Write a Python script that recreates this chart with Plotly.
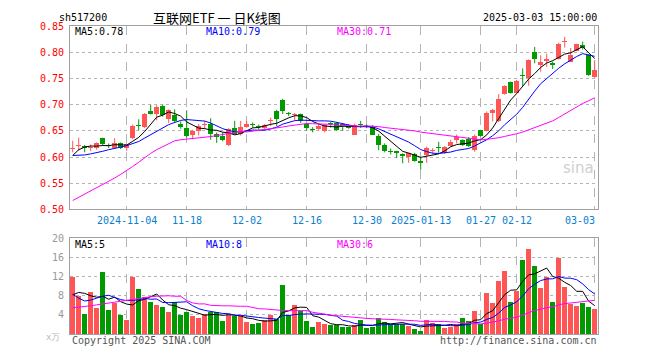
import plotly.graph_objects as go

# ---------------- data ----------------
opens = [0.616, 0.621, 0.622, 0.617, 0.618, 0.636, 0.622, 0.618, 0.627, 0.617,
         0.637, 0.660, 0.657, 0.688, 0.682, 0.697, 0.672, 0.680, 0.663, 0.655,
         0.643, 0.650, 0.661, 0.663, 0.644, 0.640, 0.623, 0.655, 0.644, 0.658,
         0.662, 0.658, 0.655, 0.668, 0.688, 0.709, 0.683, 0.681, 0.682, 0.663,
         0.652, 0.653, 0.649, 0.664, 0.665, 0.663, 0.660, 0.643, 0.662, 0.659,
         0.657, 0.641, 0.623, 0.611, 0.611, 0.605, 0.600, 0.606, 0.592, 0.604,
         0.612, 0.620, 0.607, 0.621, 0.632, 0.632, 0.635, 0.614, 0.651, 0.650,
         0.684, 0.668, 0.720, 0.743, 0.723, 0.755, 0.751, 0.800, 0.776, 0.783,
         0.780, 0.788, 0.819, 0.782, 0.803, 0.814, 0.794, 0.753]
highs = [0.631, 0.637, 0.623, 0.624, 0.628, 0.637, 0.626, 0.636, 0.628, 0.626,
         0.662, 0.672, 0.684, 0.700, 0.699, 0.700, 0.691, 0.691, 0.668, 0.689,
         0.652, 0.663, 0.669, 0.674, 0.647, 0.647, 0.655, 0.669, 0.669, 0.669,
         0.666, 0.662, 0.663, 0.675, 0.690, 0.711, 0.686, 0.684, 0.683, 0.665,
         0.657, 0.663, 0.663, 0.667, 0.667, 0.665, 0.662, 0.664, 0.669, 0.662,
         0.661, 0.644, 0.626, 0.616, 0.612, 0.607, 0.608, 0.608, 0.600, 0.620,
         0.617, 0.629, 0.621, 0.633, 0.643, 0.634, 0.638, 0.643, 0.652, 0.687,
         0.692, 0.720, 0.737, 0.744, 0.747, 0.769, 0.786, 0.810, 0.794, 0.797,
         0.782, 0.818, 0.829, 0.808, 0.816, 0.820, 0.796, 0.785]
lows = [0.609, 0.612, 0.609, 0.611, 0.614, 0.622, 0.617, 0.616, 0.615, 0.612,
        0.634, 0.651, 0.655, 0.681, 0.670, 0.677, 0.665, 0.665, 0.654, 0.637,
        0.634, 0.641, 0.654, 0.633, 0.627, 0.630, 0.621, 0.643, 0.641, 0.656,
        0.656, 0.653, 0.653, 0.659, 0.659, 0.682, 0.678, 0.670, 0.665, 0.650,
        0.647, 0.651, 0.647, 0.656, 0.650, 0.650, 0.654, 0.642, 0.656, 0.655,
        0.642, 0.613, 0.609, 0.605, 0.598, 0.588, 0.589, 0.591, 0.576, 0.589,
        0.606, 0.608, 0.606, 0.620, 0.626, 0.621, 0.619, 0.610, 0.639, 0.649,
        0.668, 0.667, 0.719, 0.721, 0.722, 0.736, 0.736, 0.779, 0.763, 0.772,
        0.768, 0.786, 0.809, 0.781, 0.802, 0.805, 0.755, 0.751]
closes = [0.618, 0.623, 0.617, 0.619, 0.627, 0.624, 0.621, 0.627, 0.617, 0.625,
          0.660, 0.659, 0.683, 0.682, 0.696, 0.680, 0.689, 0.668, 0.657, 0.641,
          0.650, 0.660, 0.663, 0.644, 0.638, 0.632, 0.653, 0.644, 0.657, 0.663,
          0.661, 0.657, 0.662, 0.669, 0.673, 0.688, 0.682, 0.682, 0.668, 0.656,
          0.651, 0.659, 0.662, 0.663, 0.651, 0.659, 0.656, 0.662, 0.661, 0.658,
          0.643, 0.623, 0.612, 0.610, 0.607, 0.602, 0.607, 0.592, 0.589, 0.618,
          0.613, 0.618, 0.620, 0.629, 0.639, 0.623, 0.622, 0.641, 0.641, 0.684,
          0.690, 0.711, 0.736, 0.723, 0.746, 0.754, 0.785, 0.788, 0.782, 0.788,
          0.776, 0.816, 0.820, 0.794, 0.815, 0.808, 0.757, 0.766]
volumes = [12.0, 8.0, 4.2, 8.8, 5.5, 12.9, 5.0, 6.4, 4.0, 3.0,
           12.0, 9.5, 7.7, 6.7, 6.0, 5.7, 4.5, 6.8, 4.0, 4.5,
           3.7, 3.3, 4.2, 4.6, 4.6, 2.8, 4.0, 3.7, 3.8, 2.5,
           2.0, 2.3, 2.9, 4.0, 3.1, 10.2, 4.0, 6.0, 4.8, 2.8,
           1.5, 2.6, 2.1, 1.8, 1.8, 1.4, 1.4, 1.8, 2.9, 1.3,
           1.4, 3.4, 2.5, 2.0, 2.1, 2.0, 1.7, 1.0, 0.6, 3.0,
           2.2, 2.0, 1.3, 1.5, 2.0, 3.4, 2.7, 4.8, 2.0, 8.5,
           6.4, 11.1, 13.2, 6.6, 8.9, 15.4, 17.8, 14.2, 9.7, 11.9,
           6.6, 16.0, 9.9, 6.3, 5.9, 6.5, 5.7, 5.3]

# moving-average values at the left edge (their windows start before the chart)
ma5_head = [0.603, 0.614, 0.619, 0.621]
ma10_head = [0.603, 0.603, 0.604, 0.606, 0.608, 0.611, 0.614, 0.616, 0.619]
ma30_head = [0.517, 0.523, 0.529, 0.535, 0.541, 0.547, 0.554, 0.560, 0.567, 0.574,
             0.582, 0.590, 0.599, 0.607, 0.614, 0.620, 0.626, 0.631, 0.633, 0.634,
             0.635, 0.636, 0.638, 0.639, 0.641, 0.643, 0.645, 0.647, 0.649]
vma5_head = [8.2, 8.7, 8.5, 8.0]
vma10_head = [8.3, 7.5, 6.9, 7.1, 7.5, 7.9, 8.1, 7.7, 7.2]
vma30_head = [5.5, 5.6, 5.8, 5.9, 6.1, 6.3, 6.4, 6.6, 6.8, 7.0,
              7.2, 7.4, 7.6, 7.8, 7.9, 8.0, 8.0, 7.9, 7.9, 7.0,
              6.5, 6.3, 6.3, 6.0, 5.9, 5.9, 5.9, 5.8, 5.8]

tick_idx = [9, 19, 29, 39, 49, 58, 68, 74, 87]
tick_labels = ['2024-11-04', '11-18', '12-02', '12-16', '12-30',
               '2025-01-13', '01-27', '02-12', '03-03']
price_ticks = [0.50, 0.55, 0.60, 0.65, 0.70, 0.75, 0.80, 0.85]
vol_ticks = [4, 8, 12, 16, 20]

header_code = 'sh517200'
header_title = '互联网ETF 一 日K线图'
header_time = '2025-03-03 15:00:00'
price_ma_labels = ['MA5:0.78', 'MA10:0.79', 'MA30:0.71']
vol_ma_labels = ['MA5:5', 'MA10:8', 'MA30:6']

# ---------------- helpers ----------------
RED = '#ff5555'
GREEN = '#009900'
MA_COLORS = ['#000000', '#0000ff', '#ff00ff']
MONO = 'DejaVu Sans Mono'

def moving_avg(vals, n, head):
    out = list(head)
    for i in range(len(head), len(vals)):
        out.append(sum(vals[i - n + 1:i + 1]) / n)
    return out

N = len(closes)
xs = list(range(N))

# the page body has an 8px margin; target plot area in page pixels: x 70-598, y 21-340
OFF = 8
PX0, PX1, PY0, PY1 = 70, 598, 21, 340
W, H = 644, 344
L, T = PX0 - OFF, PY0 - OFF
R = W - L - (PX1 - PX0)
B = H - T - (PY1 - PY0)
PW, PH = PX1 - PX0, PY1 - PY0

def px(x):
    return (x - PX0) / PW

def py(y):
    return (PY1 - y) / PH

price_dom = [py(211), 1.0]
vol_dom = [0.0, py(241)]

fig = go.Figure()

# candles
for up, col in [(True, RED), (False, GREEN)]:
    idx = [i for i in xs if (closes[i] >= opens[i]) == up]
    wx, wy = [], []
    for i in idx:
        wx += [i, i, None]
        wy += [lows[i], highs[i], None]
    fig.add_trace(go.Scatter(x=wx, y=wy, mode='lines', line=dict(color=col, width=1),
                             xaxis='x', yaxis='y', hoverinfo='skip'))
    fig.add_trace(go.Bar(x=idx,
                         y=[max(abs(closes[i] - opens[i]), 0.0018) for i in idx],
                         base=[min(opens[i], closes[i]) for i in idx],
                         width=0.8, marker=dict(color=col, line=dict(width=0)),
                         xaxis='x', yaxis='y', hoverinfo='skip'))

# price moving averages
for vals, col in zip([moving_avg(closes, 5, ma5_head),
                      moving_avg(closes, 10, ma10_head),
                      moving_avg(closes, 30, ma30_head)], MA_COLORS):
    fig.add_trace(go.Scatter(x=xs, y=vals, mode='lines', line=dict(color=col, width=1),
                             xaxis='x', yaxis='y', hoverinfo='skip'))

# volume
vcols = [RED if closes[i] >= opens[i] else GREEN for i in xs]
fig.add_trace(go.Bar(x=xs, y=volumes, width=0.8,
                     marker=dict(color=vcols, line=dict(width=0)),
                     xaxis='x2', yaxis='y2', hoverinfo='skip'))
for vals, col in zip([moving_avg(volumes, 5, vma5_head),
                      moving_avg(volumes, 10, vma10_head),
                      moving_avg(volumes, 30, vma30_head)], MA_COLORS):
    fig.add_trace(go.Scatter(x=xs, y=vals, mode='lines', line=dict(color=col, width=1),
                             xaxis='x2', yaxis='y2', hoverinfo='skip'))

GRID = '#b4b4b4'
BORDER = '#a0a0a0'
xcommon = dict(range=[-0.45, N - 0.45], tickvals=tick_idx, showticklabels=False,
               showgrid=True, gridcolor=GRID, griddash='dash', gridwidth=1,
               showline=True, mirror=True, linecolor=BORDER, linewidth=1,
               zeroline=False, ticks='', fixedrange=True)

fig.update_layout(
    width=W, height=H,
    margin=dict(l=L, r=R, t=T, b=B),
    paper_bgcolor='white', plot_bgcolor='white',
    showlegend=False, barmode='overlay', bargap=0,
    hovermode=False,
    xaxis=dict(domain=[0, 1], anchor='y', **xcommon),
    xaxis2=dict(domain=[0, 1], anchor='y2', matches='x', **xcommon),
    yaxis=dict(domain=price_dom, anchor='x', range=[0.50, 0.85],
               tickvals=price_ticks, ticktext=['%.2f' % v for v in price_ticks],
               tickfont=dict(family=MONO, size=10, color='#ff0000'),
               showgrid=True, gridcolor=GRID, griddash='dot', gridwidth=1,
               showline=True, mirror=True, linecolor=BORDER, linewidth=1,
               zeroline=False, ticks='', ticklabelstandoff=3),
    yaxis2=dict(domain=vol_dom, anchor='x2', range=[0, 20],
                tickvals=vol_ticks, ticktext=[str(v) for v in vol_ticks],
                tickfont=dict(family=MONO, size=10, color='#999999'),
                showgrid=True, gridcolor=GRID, griddash='dot', gridwidth=1,
                showline=True, mirror=True, linecolor=BORDER, linewidth=1,
                zeroline=False, ticks='', ticklabelstandoff=3),
)

ann = []

def text(x, y, s, color='#000000', size=10, family=MONO, xanchor='left', **kw):
    ann.append(dict(x=px(x), y=py(y), xref='paper', yref='paper', text=s,
                    showarrow=False, xanchor=xanchor, yanchor='middle',
                    font=dict(family=family, size=size, color=color), **kw))

# header
text(57, 12, header_code)
text(217, 12, header_title, size=13, family='Noto Sans CJK SC', xanchor='center')
text(599, 12, header_time, xanchor='right')
# MA labels
for s, x, col in zip(price_ma_labels, [73, 204, 335], MA_COLORS):
    text(x, 27, s, color=col)
for s, x, col in zip(vol_ma_labels, [73, 204, 335], MA_COLORS):
    text(x, 247, s, color=col)
# x tick labels
for i, s in zip(tick_idx, tick_labels):
    last = (i == tick_idx[-1])
    ann.append(dict(x=i + 0.45 if last else i, y=py(222), xref='x', yref='paper', text=s,
                    showarrow=False, xanchor='right' if last else 'center',
                    yanchor='middle',
                    font=dict(family=MONO, size=10, color='#0a80d0')))
# unit, footer, watermark
text(62, 343, 'x万', color='#bbbbbb', size=9, xanchor='right')
text(70, 347, 'Copyright 2025 SINA.COM', color='#555555')
text(599, 347, 'http://finance.sina.com.cn', color='#555555', xanchor='right')
text(578, 168, 'sina', color='#d0d0d0', size=15, family='DejaVu Sans', xanchor='center')

fig.update_layout(annotations=ann)
fig.write_html('out.html', config={'displayModeBar': False, 'staticPlot': True})
